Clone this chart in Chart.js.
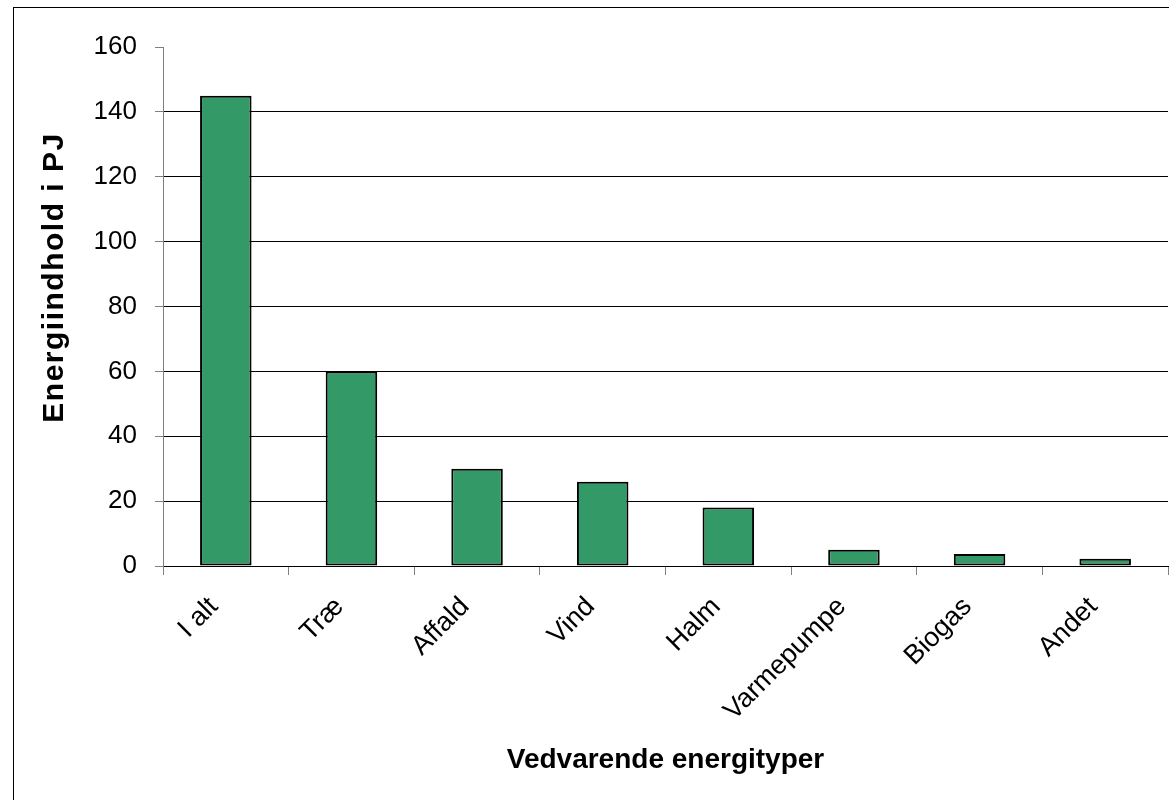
<!DOCTYPE html>
<html>
<head>
<meta charset="utf-8">
<script src="https://cdn.jsdelivr.net/npm/chart.js@4"></script>
<style>
  body { margin: 0; background: #fff; }
  #wrap { position: relative; width: 1169px; height: 800px; overflow: hidden; }
  #frame { position: absolute; left: 13px; top: 7px; width: 1200px; height: 900px;
           border-left: 1px solid #000; border-top: 1px solid #000; }
  canvas { position: absolute; left: 0; top: 0; }
</style>
</head>
<body>
<div id="wrap">
  <div id="frame"></div>
  <canvas id="chart" width="1169" height="800"></canvas>
</div>
<script>
// energy types and values (PJ)
const categories = ["I alt", "Træ", "Affald", "Vind", "Halm", "Varmepumpe", "Biogas", "Andet"];
const values = [145, 60, 30, 26, 18, 5, 3.7, 2.2];
const yTicks = [0, 20, 40, 60, 80, 100, 120, 140, 160];

const font = "'Liberation Sans', Arial, sans-serif";
Chart.defaults.font.family = font;
Chart.defaults.color = "#000";

// the y title in the original sits a bit above the middle and is stretched lengthwise
function tweakTitle(scale, spacing, shiftY) {
  if (scale._tweaked) return;
  const orig = scale.drawTitle;
  scale.drawTitle = function () {
    const ctx = this.ctx;
    ctx.save();
    ctx.letterSpacing = spacing;
    ctx.translate(0, shiftY);
    orig.call(this);
    ctx.restore();
  };
  scale._tweaked = true;
}

new Chart(document.getElementById("chart"), {
  type: "bar",
  data: {
    labels: categories,
    datasets: [{
      data: values,
      backgroundColor: "#339966",
      borderColor: "#000",
      borderWidth: 2,
      borderSkipped: false,
      barPercentage: 0.41,
      categoryPercentage: 1
    }]
  },
  options: {
    responsive: false,
    animation: false,
    layout: { padding: { left: 14, top: 47, right: 1, bottom: 0 } },
    plugins: { legend: { display: false }, tooltip: { enabled: false } },
    scales: {
      x: {
        grid: {
          offset: true,
          drawOnChartArea: false,
          tickLength: 9,
          tickColor: "#808080"
        },
        border: { color: "#000", width: 1 },
        ticks: {
          font: { size: 27 },
          minRotation: 45,
          maxRotation: 45,
          padding: 16,
          labelOffset: -12
        },
        title: {
          display: true,
          text: "Vedvarende energityper",
          font: { size: 28, weight: "bold" },
          padding: { top: 0, bottom: 23 }
        },
        afterFit: function (scale) { scale.height = 234; }
      },
      y: {
        min: 0,
        max: 160,
        afterBuildTicks: function (scale) {
          scale.ticks = yTicks.map(function (v) { return { value: v }; });
        },
        grid: {
          color: function (ctx) {
            return ctx.tick && ctx.tick.value === 160 ? "rgba(0,0,0,0)" : "#000";
          },
          tickColor: "#808080",
          tickLength: 8
        },
        border: { color: "#808080", width: 1 },
        ticks: {
          font: { size: 26 },
          padding: 18
        },
        title: {
          display: true,
          text: "Energiindhold i PJ",
          font: { size: 30, weight: "bold" },
          padding: { top: 23, bottom: 0 }
        },
        afterFit: function (scale) {
          scale.width = 149;
          tweakTitle(scale, "1.5px", -29);
        }
      }
    }
  }
});
</script>
</body>
</html>
